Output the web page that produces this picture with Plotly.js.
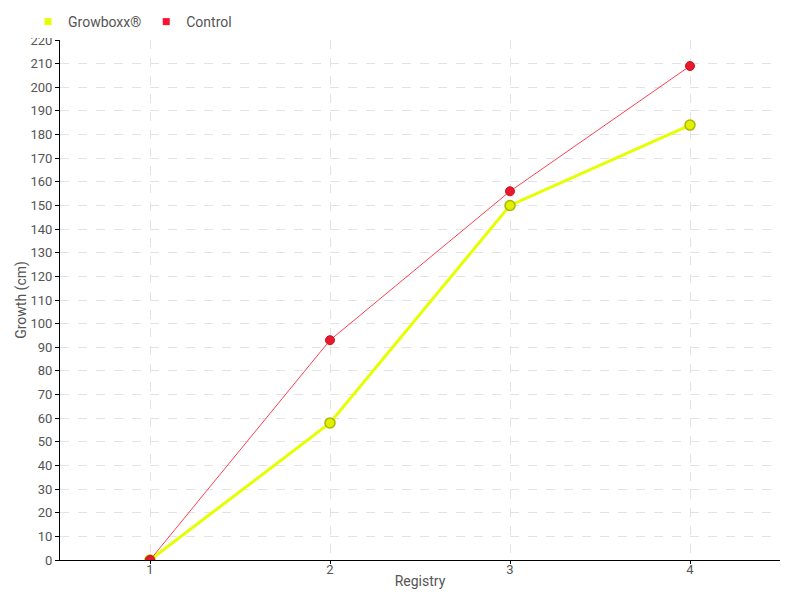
<!DOCTYPE html>
<html>
<head>
<meta charset="utf-8">
<script src="https://cdn.plot.ly/plotly-3.0.1.min.js"></script>
<style>html,body{margin:0;padding:0;background:#fff}#chart{width:800px;height:600px}</style>
</head>
<body>
<div id="chart"></div>
<script>
const registry = [1, 2, 3, 4];
const growboxx = [0, 58, 150, 184];
const control = [0, 93, 156, 209];
const seriesNames = ["Growboxx®", "Control"];
const yTicks = [0,10,20,30,40,50,60,70,80,90,100,110,120,130,140,150,160,170,180,190,200,210,220];

const fontFam = 'Roboto, "DejaVu Sans", sans-serif';
const traces = [
  {x: registry, y: growboxx, mode: 'lines+markers', name: seriesNames[0], showlegend: false,
   line: {color: '#e5ff00', width: 3},
   marker: {color: '#e0f000', size: 10, line: {color: '#a8b800', width: 1.5}}},
  {x: registry, y: control, mode: 'lines+markers', name: seriesNames[1], showlegend: false,
   line: {color: '#ff4050', width: 1},
   marker: {color: '#e8192c', size: 9, line: {color: '#d01020', width: 1}}},
  {x: [null], y: [null], mode: 'markers', name: seriesNames[0],
   marker: {symbol: 'square', color: '#e5ff00', size: 7}},
  {x: [null], y: [null], mode: 'markers', name: seriesNames[1],
   marker: {symbol: 'square', color: '#ff1030', size: 7}}
];

const layout = {
  width: 800, height: 600,
  margin: {l: 60, r: 20, t: 40, b: 40},
  paper_bgcolor: '#fff', plot_bgcolor: '#fff',
  font: {family: fontFam, size: 14, color: '#555'},
  showlegend: true,
  legend: {orientation: 'h', x: 0.035, xref: 'container', xanchor: 'left',
           y: 0.99, yref: 'container', yanchor: 'top',
           font: {size: 14, color: '#555'}, itemwidth: 30, tracegroupgap: 0},
  xaxis: {
    range: [0.5, 4.5], tickvals: registry, ticktext: registry.map(String),
    showline: true, linecolor: '#000', linewidth: 1,
    ticks: 'outside', ticklen: 3, tickcolor: '#000',
    ticklabelstandoff: -6,
    tickfont: {size: 13, color: '#555'},
    showgrid: true, gridcolor: '#e3e3e3', griddash: 'dash', gridwidth: 1,
    zeroline: false, automargin: false,
    title: {text: 'Registry', standoff: 0, font: {size: 14, color: '#555'}}
  },
  yaxis: {
    range: [0, 220], tickvals: yTicks,
    showline: true, linecolor: '#000', linewidth: 1,
    ticks: 'outside', ticklen: 4, tickcolor: '#000',
    tickfont: {size: 13, color: '#555'},
    showgrid: true, gridcolor: '#e3e3e3', griddash: 'dash', gridwidth: 1,
    zeroline: false, automargin: false,
    title: {text: 'Growth (cm)', standoff: 0, font: {size: 14, color: '#555'}}
  }
};

Plotly.newPlot('chart', traces, layout, {displayModeBar: false, staticPlot: true});
</script>
</body>
</html>
